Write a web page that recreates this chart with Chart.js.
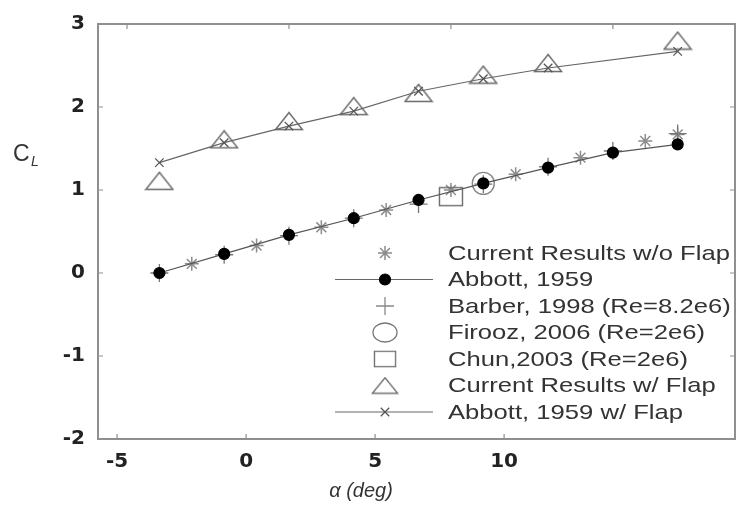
<!DOCTYPE html>
<html>
<head>
  <title>CL vs alpha</title>
  <script src="https://cdn.jsdelivr.net/npm/chart.js"></script>
  <style>
    body { margin: 0; background: #fff; }
    canvas { display: block; }
  </style>
</head>
<body>
  <canvas id="clChart" width="736" height="509"></canvas>
  <script>
    // values
    const alphaNoFlap = [-3, -1, 1, 3, 5, 7, 9, 11, 12];
    const clNoFlap = [0.11, 0.33, 0.55, 0.76, 1.00, 1.19, 1.39, 1.59, 1.67];
    const alphaAbbott = [-4, -2, 0, 2, 4, 6, 8, 10, 12];
    const clAbbott = [0.00, 0.23, 0.46, 0.66, 0.88, 1.08, 1.27, 1.45, 1.55];
    const alphaBarber = [-4, -2, 0, 2, 4, 6, 8, 10, 12];
    const clBarber = [0.00, 0.22, 0.45, 0.66, 0.83, 1.07, 1.28, 1.47, 1.68];
    const alphaFirooz = [6];
    const clFirooz = [1.08];
    const alphaChun = [5];
    const clChun = [0.92];
    const alphaFlap = [-4, -2, 0, 2, 4, 6, 8, 12];
    const clFlap = [1.11, 1.61, 1.83, 2.01, 2.17, 2.39, 2.53, 2.80];
    const alphaAbbottFlap = [-4, -2, 0, 2, 4, 6, 8, 12];
    const clAbbottFlap = [1.33, 1.57, 1.77, 1.95, 2.19, 2.34, 2.47, 2.67];

    const xTicks = [-5, 0, 5, 10];
    const yTicks = [-2, -1, 0, 1, 2, 3];

    function pts(xs, ys) {
      return xs.map((x, i) => ({ x: x, y: ys[i] }));
    }

    function markerImage(w, h, draw) {
      const c = document.createElement('canvas');
      c.width = w; c.height = h;
      const g = c.getContext('2d');
      g.strokeStyle = '#6a6a6a';
      g.lineWidth = 1.4;
      draw(g, w, h);
      return c;
    }
    const triangleImg = markerImage(30, 20, (g, w, h) => {
      g.beginPath();
      g.moveTo(1.5, h - 1.5); g.lineTo(w / 2, 1.5); g.lineTo(w - 1.5, h - 1.5);
      g.closePath(); g.stroke();
    });
    const squareImg = markerImage(26, 21, (g, w, h) => g.strokeRect(1.5, 1.5, w - 3, h - 3));

    const datasets = [
      { label: 'Abbott, 1959', data: pts(alphaAbbott, clAbbott), showLine: true,
        borderColor: '#555', borderWidth: 1.2, pointStyle: 'circle', pointRadius: 5.5,
        pointBackgroundColor: '#000', pointBorderColor: '#000', order: 0 },
      { label: 'Firooz, 2006 (Re=2e6)', data: pts(alphaFirooz, clFirooz),
        pointStyle: 'circle', pointRadius: 11, pointBorderColor: '#888', pointBorderWidth: 1.4,
        pointBackgroundColor: 'rgba(0,0,0,0)', order: 1 },
      { label: 'Barber, 1998 (Re=8.2e6)', data: pts(alphaBarber, clBarber),
        pointStyle: 'cross', pointRadius: 9, pointBorderColor: '#777', pointBorderWidth: 1.3, order: 2 },
      { label: 'Chun,2003 (Re=2e6)', data: pts(alphaChun, clChun),
        pointStyle: squareImg, order: 3 },
      { label: 'Current Results w/o Flap', data: pts(alphaNoFlap, clNoFlap),
        pointStyle: 'star', pointRadius: 7, pointBorderColor: '#8c8c8c', pointBorderWidth: 1.5, order: 4 },
      { label: 'Abbott, 1959 w/ Flap', data: pts(alphaAbbottFlap, clAbbottFlap), showLine: true,
        borderColor: '#666', borderWidth: 1.2, pointStyle: 'crossRot', pointRadius: 6,
        pointBorderColor: '#555', pointBorderWidth: 1.3, order: 5 },
      { label: 'Current Results w/ Flap', data: pts(alphaFlap, clFlap),
        pointStyle: triangleImg, order: 6 }
    ];
    datasets.forEach(d => { d.xAxisID = 'x2'; d.yAxisID = 'y'; });

    const tickFont = { family: 'DejaVu Sans', size: 20, weight: 'bold' };

    const framePlugin = {
      id: 'frame',
      beforeDatasetsDraw(chart) {
        const { ctx, chartArea: a, scales } = chart;
        ctx.save();
        ctx.strokeStyle = '#8f8f8f';
        ctx.lineWidth = 2;
        ctx.strokeRect(a.left, a.top, a.right - a.left, a.bottom - a.top);
        ctx.lineWidth = 1.2;
        ctx.beginPath();
        xTicks.forEach(v => {
          const px = scales.x.getPixelForValue(v);
          ctx.moveTo(px, a.bottom); ctx.lineTo(px, a.bottom - 5);
          const pt = scales.x2.getPixelForValue(v);
          ctx.moveTo(pt, a.top); ctx.lineTo(pt, a.top + 5);
        });
        yTicks.forEach(v => {
          const py = scales.y.getPixelForValue(v);
          ctx.moveTo(a.left, py); ctx.lineTo(a.left + 5, py);
          ctx.moveTo(a.right, py); ctx.lineTo(a.right - 5, py);
        });
        ctx.stroke();
        ctx.restore();
      }
    };

    // legend rows as in the figure
    const legendRows = [
      'Current Results w/o Flap', 'Abbott, 1959', 'Barber, 1998 (Re=8.2e6)',
      'Firooz, 2006 (Re=2e6)', 'Chun,2003 (Re=2e6)', 'Current Results w/ Flap', 'Abbott, 1959 w/ Flap'
    ];

    const legendPlugin = {
      id: 'figLegend',
      afterDraw(chart) {
        const ctx = chart.ctx;
        const draw = Chart.helpers.drawPoint;
        const mx = 385, y0 = 253, dy = 26.5;
        ctx.save();
        legendRows.forEach((label, i) => {
          const y = y0 + i * dy;
          ctx.lineWidth = 1.3;
          if (i === 0) {
            ctx.strokeStyle = '#8c8c8c'; ctx.lineWidth = 1.5;
            draw(ctx, { pointStyle: 'star', radius: 7, borderWidth: 1.5 }, mx, y);
          } else if (i === 1 || i === 6) {
            ctx.strokeStyle = '#666'; ctx.lineWidth = 1.2;
            ctx.beginPath(); ctx.moveTo(335, y); ctx.lineTo(433, y); ctx.stroke();
            if (i === 1) {
              ctx.fillStyle = '#000'; ctx.strokeStyle = '#000';
              draw(ctx, { pointStyle: 'circle', radius: 5.5, borderWidth: 1 }, mx, y);
            } else {
              ctx.strokeStyle = '#555'; ctx.lineWidth = 1.3;
              draw(ctx, { pointStyle: 'crossRot', radius: 6, borderWidth: 1.3 }, mx, y);
            }
          } else if (i === 2) {
            ctx.strokeStyle = '#888';
            draw(ctx, { pointStyle: 'cross', radius: 9, borderWidth: 1.3 }, mx, y);
          } else if (i === 3) {
            ctx.strokeStyle = '#777';
            ctx.beginPath(); ctx.ellipse(mx, y, 12, 9.5, 0, 0, Math.PI * 2); ctx.stroke();
          } else if (i === 4) {
            ctx.drawImage(squareImg, mx - 12, y - 9, 24, 18);
          } else {
            ctx.drawImage(triangleImg, mx - 14, y - 9, 28, 18);
          }
          ctx.save();
          ctx.translate(448, y);
          ctx.scale(1.22, 1);
          ctx.font = '21px "Liberation Sans", Arial, sans-serif';
          ctx.fillStyle = '#333';
          ctx.textBaseline = 'middle';
          ctx.fillText(label, 0, 1);
          ctx.restore();
        });

        // axis titles
        ctx.fillStyle = '#333';
        ctx.textBaseline = 'middle';
        ctx.textAlign = 'center';
        ctx.font = 'italic 20px "Liberation Sans", Arial, sans-serif';
        ctx.fillText('\u03B1 (deg)', 361, 491);
        ctx.textAlign = 'left';
        ctx.font = '23px "Liberation Sans", Arial, sans-serif';
        ctx.fillText('C', 13, 155);
        ctx.font = 'italic 14px "Liberation Sans", Arial, sans-serif';
        ctx.fillText('L', 31, 162);
        ctx.restore();
      }
    };

    new Chart(document.getElementById('clChart').getContext('2d'), {
      type: 'scatter',
      data: { datasets: datasets },
      options: {
        responsive: false,
        animation: false,
        layout: { autoPadding: false, padding: { top: 24, right: 1, left: 0, bottom: 0 } },
        plugins: { legend: { display: false }, tooltip: { enabled: false } },
        scales: {
          x: {
            type: 'linear', position: 'bottom', min: -5.74, max: 18.95,
            afterBuildTicks: s => { s.ticks = xTicks.map(v => ({ value: v })); },
            afterFit: s => { s.height = 70; s.paddingLeft = 0; s.paddingRight = 0; },
            grid: { display: false, drawTicks: false },
            border: { display: false },
            ticks: { font: tickFont, color: '#222', padding: 11, maxRotation: 0 }
          },
          x2: { type: 'linear', position: 'top', display: false, min: -5.895, max: 13.77 },
          y: {
            type: 'linear', position: 'left', min: -2, max: 3,
            afterBuildTicks: s => { s.ticks = yTicks.map(v => ({ value: v })); },
            afterFit: s => { s.width = 98; s.paddingTop = 0; s.paddingBottom = 0; },
            grid: { display: false, drawTicks: false },
            border: { display: false },
            ticks: { font: tickFont, color: '#222', padding: 13 }
          }
        }
      },
      plugins: [framePlugin, legendPlugin]
    });
  </script>
</body>
</html>
